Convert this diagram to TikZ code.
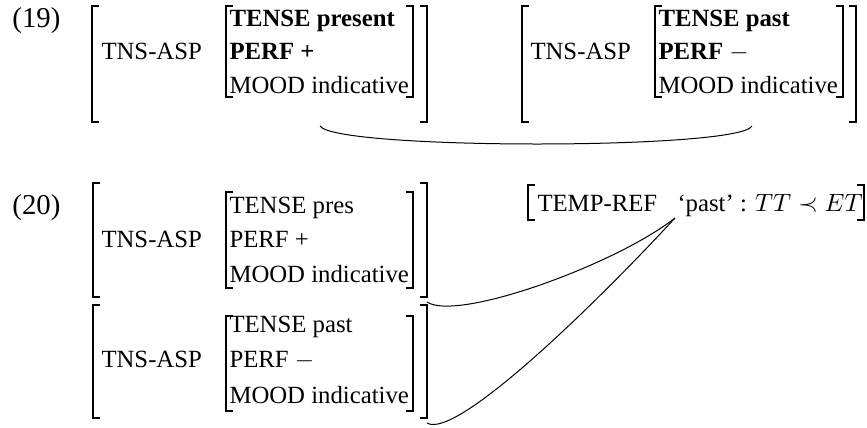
\documentclass[tikz,border=0pt]{standalone}
\usepackage{fontspec}
\setmainfont{Liberation Serif}

% square brackets of one matrix: left x, right x, top y, bottom y
\newcommand{\avmbox}[4]{%
  \draw[line width=0.5pt] (#1+7,#3) -| (#1,#4) -- (#1+7,#4);
  \draw[line width=0.5pt] (#2-7,#3) -| (#2,#4) -- (#2-7,#4);
}

\begin{document}
\begin{tikzpicture}[x=0.4pt, y=-0.4pt,
    txt/.style={anchor=base west, inner sep=0pt, font=\fontsize{9.9}{12}\selectfont},
    exno/.style={txt, font=\fontsize{11.5}{13}\selectfont}]
        % Canvas
        \useasboundingbox (0,0) rectangle (867,427);

        % (19) left matrix
        \node[exno] (lbl19) at (12,27) {(19)};
        \avmbox{92}{427}{6}{122}
        \avmbox{226}{413}{6}{97}
        \node[txt] (tns19a) at (101,59) {TNS-ASP};
        \node[txt] (tense19a) at (229,26) {\textbf{TENSE present}};
        \node[txt] (perf19a) at (229,59) {\textbf{PERF +}};
        \node[txt] (mood19a) at (229,93) {MOOD indicative};

        % (19) right matrix
        \avmbox{522}{856}{6}{122}
        \avmbox{655}{843}{6}{97}
        \node[txt] (tns19b) at (530,59) {TNS-ASP};
        \node[txt] (tense19b) at (658,26) {\textbf{TENSE past}};
        \node[txt] (perf19b) at (658,59) {\textbf{PERF} $-$};
        \node[txt] (mood19b) at (658,93) {MOOD indicative};

        % (20) upper matrix
        \node[exno] (lbl20) at (12,214) {(20)};
        \avmbox{93}{427}{183}{297}
        \avmbox{226}{413}{192}{288}
        \node[txt] (tns20a) at (101,247) {TNS-ASP};
        \node[txt] (tense20a) at (229,213) {TENSE pres};
        \node[txt] (perf20a) at (229,247) {PERF +};
        \node[txt] (mood20a) at (229,282) {MOOD indicative};

        % (20) lower matrix
        \avmbox{93}{427}{305}{418}
        \avmbox{226}{413}{316}{411}
        \node[txt] (tns20b) at (101,367) {TNS-ASP};
        \node[txt] (tense20b) at (229,332) {TENSE past};
        \node[txt] (perf20b) at (229,367) {PERF $-$};
        \node[txt] (mood20b) at (229,403) {MOOD indicative};

        % Temporal reference
        \avmbox{528}{864}{185}{220}
        \node[txt] (tempref) at (537,211) {TEMP-REF};
        \node[txt] (pastval) at (677,211) {`past' : $TT \prec ET$};

        % Link ends
        \coordinate (end19a) at (320,126);
        \coordinate (end19b) at (752,126);
        \coordinate (endpast) at (675,218);
        \coordinate (end20a) at (427,302);
        \coordinate (end20b) at (427,423);

        % Links
        \draw (end19a) .. controls (335,150) and (740,150) .. (end19b);
        \draw (end20a) .. controls (457,322) and (615,265) .. (endpast);
        \draw (end20b) .. controls (455,440) and (590,310) .. (endpast);
    \end{tikzpicture}
\end{document}
